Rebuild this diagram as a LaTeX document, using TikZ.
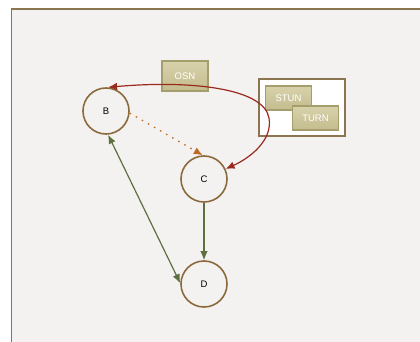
\documentclass[tikz,border=0pt]{standalone}
\usepackage{fontspec}
\setmainfont{Liberation Sans}
\usetikzlibrary{arrows.meta}
\definecolor{panelbg}{HTML}{F4F2F0}
\definecolor{panelbd}{HTML}{8B7550}
\definecolor{circbd}{HTML}{8B6B3D}
\definecolor{boxtop}{HTML}{D8D2AC}
\definecolor{boxbot}{HTML}{C4BC8E}
\definecolor{boxbd}{HTML}{A39E6C}
\definecolor{redc}{HTML}{9B2A1E}
\definecolor{greenc}{HTML}{5E7040}
\definecolor{orangec}{HTML}{C06A20}
\tikzset{
  peer/.style={circle, draw=circbd, line width=1.6pt, fill=panelbg, minimum size=46pt, inner sep=0pt, font=\fontsize{9.5}{11}\selectfont},
  svc/.style={draw=boxbd, line width=1.5pt, top color=boxtop, bottom color=boxbot, minimum width=46pt, minimum height=24pt, inner sep=0pt, text=white, font=\fontsize{9.5}{11}\selectfont},
  tip/.style={-{Latex[length=9pt,width=7.5pt]}},
  tips/.style={{Latex[length=9pt,width=7.5pt]}-{Latex[length=9pt,width=7.5pt]}},
}
\begin{document}
\begin{tikzpicture}[x=1pt,y=-1pt]
\useasboundingbox (0,0) rectangle (420,342);
\fill[panelbg] (11.5,9) rectangle (421,343);
\draw[draw=panelbd, line width=1.8pt] (11.5,345) -- (11.5,9) -- (423,9);
\node[draw=panelbd, fill=white, line width=1.5pt, minimum width=86pt, minimum height=57pt, inner sep=0pt] (grp) at (302,107.5) {};
\node[svc] (stun) at (288.5,98) {STUN};
\node[svc] (turn) at (315.5,118) {TURN};
\node[svc, minimum height=30pt] (osn) at (185,76) {OSN};
\node[peer] (B) at (106,111) {B};
\node[peer] (C) at (204,179) {C};
\node[peer] (D) at (204,284) {D};
\coordinate (r1) at (269,118);
\draw[redc, line width=1.2pt, tips] (B.85) .. controls (190,80) and (264,88) .. (r1) .. controls (273,140) and (250,158) .. (C.25);
\draw[orangec, line width=1.3pt, dash pattern=on 1.5pt off 5.5pt, tip] (B.-5) -- (C.93);
\draw[greenc, line width=1.2pt, tip] (C) -- (D);
\draw[greenc, line width=1.2pt, tips] (B.-85) -- (D.178);
\end{tikzpicture}
\end{document}
